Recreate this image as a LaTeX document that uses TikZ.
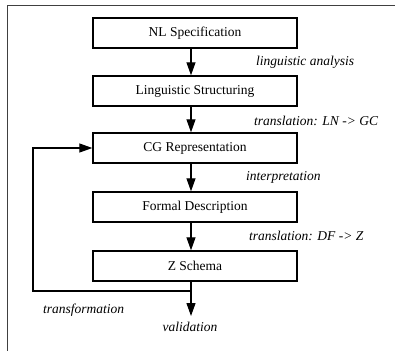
\documentclass[tikz,border=0pt]{standalone}
\usepackage{fontspec}
\setmainfont{Liberation Serif}
\usetikzlibrary{arrows.meta}
\tikzset{
  box/.style={draw, line width=1.4pt, minimum width=204pt, minimum height=30pt, inner sep=0pt, font=\fontsize{13.5}{16}\selectfont},
  lbl/.style={inner sep=0pt, font=\fontsize{13.5}{16}\selectfont\itshape},
  arr/.style={line width=1.2pt, -{Triangle[length=13pt,width=9pt]}},
  ln/.style={line width=1.2pt},
  frame/.style={line width=1pt, draw=black!75}
}
\begin{document}
\begin{tikzpicture}[x=1pt,y=-1pt]
\useasboundingbox (0,0) rectangle (395,350);
\fill[white] (0,0) rectangle (395,350);
\coordinate (f1) at (7.5,360);
\coordinate (f2) at (7.5,6);
\coordinate (f3) at (400,6);
\draw[frame] (f1) -- (f2) -- (f3);
\node[box] (nl) at (195,33) {NL Specification};
\node[box] (ls) at (195,91) {Linguistic Structuring};
\node[box] (cg) at (195,148) {CG Representation};
\node[box] (fd) at (195,207) {Formal Description};
\node[box] (zs) at (195,266) {Z Schema};
\coordinate (a) at (191,0);
\draw[arr] (nl.south -| a) -- (ls.north -| a);
\draw[arr] (ls.south -| a) -- (cg.north -| a);
\draw[arr] (cg.south -| a) -- (fd.north -| a);
\draw[arr] (fd.south -| a) -- (zs.north -| a);
\coordinate (j) at (191,291);
\coordinate (vt) at (191,316);
\coordinate (lc) at (33,291);
\draw[ln] (zs.south -| a) -- (j);
\draw[arr] (j) -- (vt);
\draw[arr] (j) -- (lc) |- (cg.west);
\node[lbl, anchor=west] (l1) at (256,62) {linguistic analysis};
\node[lbl, anchor=west] (l2) at (254,121) {translation: LN -> GC};
\node[lbl, anchor=west] (l3) at (246,177) {interpretation};
\node[lbl, anchor=west] (l4) at (249,236) {translation: DF -> Z};
\node[lbl, anchor=west] (l5) at (43,310) {transformation};
\node[lbl] (l6) at (190,327) {validation};
\end{tikzpicture}
\end{document}
